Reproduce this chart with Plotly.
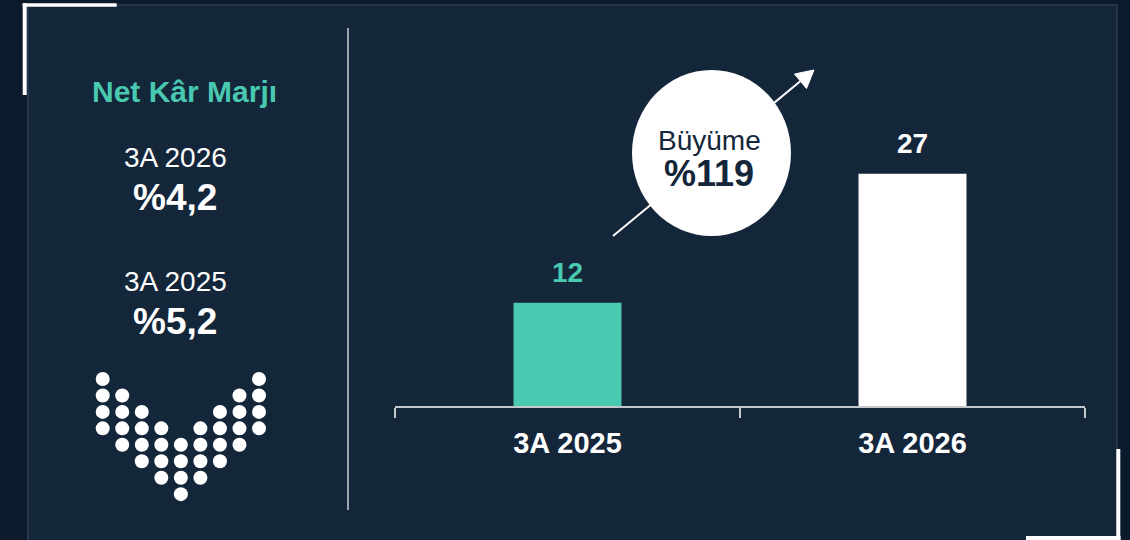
import plotly.graph_objects as go

W, H = 1130, 540

# ---- data ----
categories = ["3A 2025", "3A 2026"]
values = [12, 27]
bar_colors = ["#48c9b0", "#ffffff"]
growth_label = "Büyüme"
growth_value = "%119"
margin_title = "Net Kâr Marjı"
margin_periods = ["3A 2026", "3A 2025"]
margin_values = ["%4,2", "%5,2"]
# decorative dot pattern: column indices filled in each row
dot_rows = [[0, 8], [0, 1, 7, 8], [0, 1, 2, 6, 7, 8], [0, 1, 2, 3, 5, 6, 7, 8],
            [1, 2, 3, 4, 5, 6, 7], [2, 3, 4, 5, 6], [3, 4, 5], [4]]

OUTER = "#0c1b2b"
PANEL = "#14263a"
TEAL = "#48c9b0"
FONT = "Liberation Sans, Arial, sans-serif"


def px(x):
    return x / W


def py(y):
    return 1 - y / H


fig = go.Figure()

# bars
fig.add_trace(go.Bar(
    x=categories, y=values, marker=dict(color=bar_colors, line=dict(width=0)),
    width=0.313, hoverinfo="skip", xaxis="x", yaxis="y"))

# dots (decoration) on pixel-space overlay axes
dx, dy = [], []
for j, row in enumerate(dot_rows):
    for i in row:
        dx.append(102.7 + 19.54 * i)
        dy.append(379 + 16.45 * j)
fig.add_trace(go.Scatter(
    x=dx, y=dy, mode="markers", xaxis="x2", yaxis="y2", hoverinfo="skip",
    marker=dict(color="#ffffff", size=14, line=dict(width=0))))

shapes = []
# panel
shapes.append(dict(type="rect", xref="paper", yref="paper", layer="below",
                   x0=px(28), x1=px(1117), y0=py(5), y1=py(548),
                   fillcolor=PANEL, line=dict(color="#24364a", width=2)))
# corner brackets
shapes.append(dict(type="line", xref="paper", yref="paper", layer="below",
                   x0=px(22.7), x1=px(116.7), y0=py(5), y1=py(5),
                   line=dict(color="#ffffff", width=3.5)))
shapes.append(dict(type="line", xref="paper", yref="paper", layer="below",
                   x0=px(24.7), x1=px(24.7), y0=py(3.3), y1=py(95),
                   line=dict(color="#ffffff", width=4)))
shapes.append(dict(type="line", xref="paper", yref="paper", layer="below",
                   x0=px(1118.3), x1=px(1118.3), y0=py(449), y1=py(541),
                   line=dict(color="#ffffff", width=4)))
shapes.append(dict(type="line", xref="paper", yref="paper", layer="below",
                   x0=px(1026), x1=px(1120.5), y0=py(538), y1=py(538),
                   line=dict(color="#ffffff", width=4)))
# divider
shapes.append(dict(type="line", xref="paper", yref="paper", layer="below",
                   x0=px(348), x1=px(348), y0=py(28), y1=py(510),
                   line=dict(color="#9aa5b0", width=2)))
# arrow line + head
shapes.append(dict(type="line", xref="paper", yref="paper", layer="above",
                   x0=px(613), y0=py(236), x1=px(803), y1=py(79),
                   line=dict(color="#ffffff", width=2)))
shapes.append(dict(type="path", xref="paper", yref="paper", layer="above",
                   path="M {} {} L {} {} L {} {} Z".format(
                       px(814), py(70), px(806.5), py(88.5), px(794.5), py(74)),
                   fillcolor="#ffffff", line=dict(color="#ffffff", width=1)))
# growth bubble
shapes.append(dict(type="circle", xref="paper", yref="paper", layer="above",
                   x0=px(632), x1=px(791), y0=py(70), y1=py(236),
                   fillcolor="#ffffff", line=dict(color="#ffffff", width=0)))

annotations = []
# bar value labels
for c, v, col in zip(categories, values, [TEAL, "#ffffff"]):
    annotations.append(dict(x=c, y=v, xref="x", yref="y", text="<b>%d</b>" % v,
                            showarrow=False, xanchor="center", yanchor="bottom",
                            yshift=13,
                            font=dict(family=FONT, size=28, color=col)))


def txt(x, y, text, size, color):
    annotations.append(dict(x=px(x), y=py(y), xref="paper", yref="paper",
                            text=text, showarrow=False, xanchor="center",
                            yanchor="middle",
                            font=dict(family=FONT, size=size, color=color)))


# bubble text
txt(709, 141, growth_label, 28, "#14263a")
txt(709, 173, "<b>%s</b>" % growth_value, 36, "#14263a")
# left panel text
txt(184, 91, "<b>%s</b>" % margin_title, 30, TEAL)
for k, (p, v) in enumerate(zip(margin_periods, margin_values)):
    base = 157 + 124 * k
    txt(175, base, p, 28, "#ffffff")
    txt(175, base + 40, "<b>%s</b>" % v, 37, "#ffffff")

fig.update_layout(
    width=W, height=H, margin=dict(l=0, r=0, t=0, b=0),
    paper_bgcolor=OUTER, plot_bgcolor="rgba(0,0,0,0)",
    showlegend=False, shapes=shapes, annotations=annotations,
    xaxis=dict(domain=[px(395), px(1085)], type="category",
               range=[-0.5, 1.5], showline=True, linecolor="#c4c8cc", linewidth=2,
               ticks="outside", tickson="boundaries", ticklen=10, tickwidth=2,
               tickcolor="#c4c8cc", showgrid=False, zeroline=False,
               tickfont=dict(family=FONT, size=29, color="#ffffff"),
               tickvals=categories, ticktext=["<b>%s</b>" % c for c in categories],
               ticklabelstandoff=10, fixedrange=True),
    yaxis=dict(domain=[py(406), py(62)], range=[0, 40], visible=False,
               fixedrange=True),
    xaxis2=dict(domain=[0, 1], range=[0, W], visible=False, anchor="y2",
                fixedrange=True),
    yaxis2=dict(domain=[0, 1], range=[H, 0], visible=False, anchor="x2",
                fixedrange=True),
)

fig.write_html("out.html", config={"displayModeBar": False},
               post_script="document.body.style.margin='0px';"
                           "document.body.style.overflow='hidden';")
